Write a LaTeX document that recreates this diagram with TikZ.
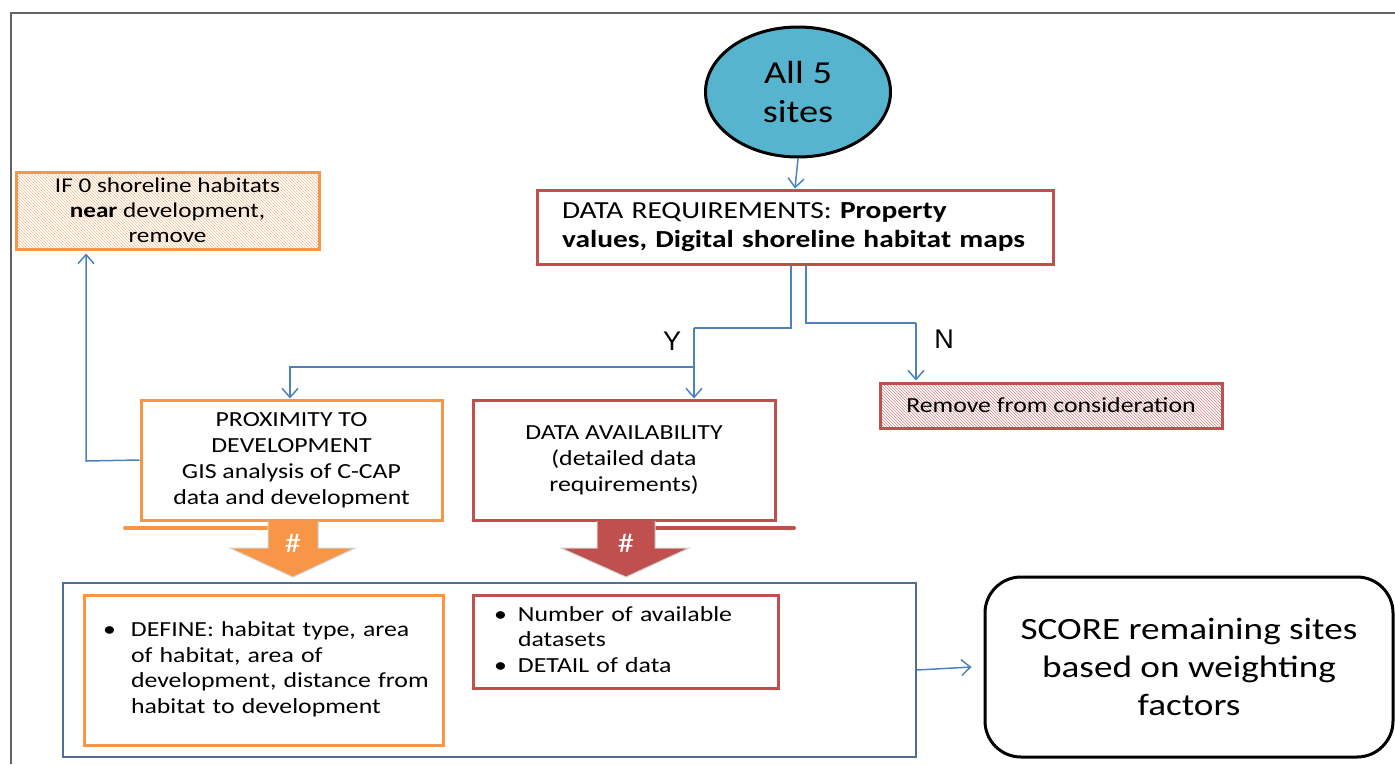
\documentclass[tikz,border=0pt]{standalone}
\usepackage{fontspec}
\setmainfont{Carlito}[FakeStretch=1.2]
\newfontfamily\arialf{Liberation Sans}
\usetikzlibrary{patterns,arrows.meta,shapes.geometric,calc}
\definecolor{orng}{RGB}{247,150,70}
\definecolor{redb}{RGB}{192,80,77}
\definecolor{bluel}{RGB}{79,129,189}
\definecolor{frameb}{RGB}{79,110,145}
\definecolor{tealc}{RGB}{86,180,206}
\definecolor{framegray}{RGB}{100,100,100}
\newcommand{\fs}[2]{\fontsize{#1}{#2}\selectfont}
\begin{document}
\begin{tikzpicture}[x=1pt,y=-1pt,
  line/.style={draw=bluel, line width=1.5pt},
  conn/.style={line, -{Straight Barb[length=9pt,width=16pt,line width=1.5pt]}},
  obox/.style={draw=orng, line width=3pt, fill=white, inner sep=0pt},
  rbox/.style={draw=redb, line width=3pt, fill=white, inner sep=0pt},
  ohatch/.style={draw=orng, line width=3pt, inner sep=0pt, preaction={fill=white}, pattern=north west lines, pattern color=orng!60},
  rhatch/.style={draw=redb, line width=3pt, inner sep=0pt, preaction={fill=white}, pattern=north west lines, pattern color=redb!70},
  darrow/.style={draw=black!18, line width=1pt},
  hashlbl/.style={text=white, font=\fs{27}{30}}
]
\useasboundingbox (0,0) rectangle (1395,764);
% outer frame
\draw[framegray, line width=2pt] (11,764) -- (11,13) -- (1395,13);

% ellipse
\node[ellipse, draw=black, line width=3pt, fill=tealc, minimum width=185pt, minimum height=130pt, inner sep=0pt, align=center, font=\fs{32}{39}] (all) at (798,92) {All 5\\sites};

% data requirements
\node[rbox, minimum width=516pt, minimum height=74pt, text width=466pt, align=left, font=\fs{24.5}{29}] (dreq) at (795,227)
  {DATA REQUIREMENTS: \textbf{Property}\\\textbf{values, Digital shoreline habitat maps}};

% if 0
\node[ohatch, minimum width=303pt, minimum height=77pt, align=center, font=\fs{21}{25}] (if0) at (167.5,210.5)
  {IF 0 shoreline habitats\\\textbf{near} development,\\remove};

% proximity
\node[obox, minimum width=301pt, minimum height=120pt, align=center, font=\fs{21.5}{26}] (prox) at (291.5,460)
  {PROXIMITY TO\\DEVELOPMENT\\GIS analysis of C-CAP\\data and development};

% data availability
\node[rbox, minimum width=302pt, minimum height=120pt, align=center, font=\fs{21.5}{26}] (davail) at (624,460)
  {DATA AVAILABILITY\\(detailed data\\requirements)};

% remove
\node[rhatch, minimum width=342pt, minimum height=45pt, font=\fs{21.5}{24}] (remove) at (1051,405.5)
  {Remove from consideration};

% Y / N labels
\node[font=\arialf\fs{27}{30}] (ylbl) at (672,341) {Y};
\node[font=\arialf\fs{27}{30}] (nlbl) at (944,339) {N};

% connectors
\draw[conn] (all.south) -- (dreq.north);
\coordinate (yb) at (694,328);
\coordinate (yj) at (694,367);
\coordinate (nb) at (916,323);
\draw[line] ($(dreq.south)+(-4,0)$) |- (yb);
\draw[conn] (yb) -- (yb |- davail.north);
\draw[conn] (yj) -| ($(prox.north)+(-1.5,0)$);
\draw[line] ($(dreq.south)+(11,0)$) |- (nb);
\draw[conn] (nb) -- ($(nb |- remove.north)+(0,-1)$);
\coordinate (ifx) at (86,461);
\draw[conn] (prox.west) -- (ifx) -- ($(if0.south -| ifx)+(0,3)$);

% bottom frame and inner boxes
\node[draw=frameb, line width=1.8pt, minimum width=853pt, minimum height=174pt] (frame) at (489.5,670) {};
\node[obox, minimum width=359pt, minimum height=150pt, text width=321pt, inner xsep=19pt, align=left, font=\fs{21.5}{25.5}] (define) at (263.5,670)
  {\begin{tabular}{@{}p{28pt}@{}l@{}}
   \textbullet & DEFINE: habitat type, area\\
   & of habitat, area of\\
   & development, distance from\\
   & habitat to development
   \end{tabular}};
\node[rbox, minimum width=305pt, minimum height=93pt, text width=263pt, inner xsep=21pt, align=left, font=\fs{21.5}{25.5}] (detail) at (625.5,641.5)
  {\begin{tabular}{@{}p{24pt}@{}l@{}}
   \textbullet & Number of available\\
   & datasets\\
   \textbullet & DETAIL of data
   \end{tabular}};
\node[draw=black, line width=3pt, rounded corners=36pt, minimum width=408pt, minimum height=180pt, align=center, font=\fs{31}{38}] (score) at (1189,667)
  {SCORE remaining sites\\based on weighting\\factors};
\draw[conn] (frame.east) -- ($(score.west)+(-12,0)$);

% side lines under the boxes
\draw[orng, line width=4pt, line cap=round] (125,528) -- (268,528);
\draw[redb, line width=4pt, line cap=round] (655,528) -- (794,528);

% down arrows
\fill[orng] (268,521) -- (318,521) -- (318,548) -- (355,548) -- (293,577) -- (230,548) -- (268,548) -- cycle;
\draw[darrow] (268,521) -- (268,548) -- (230,548) -- (293,577) -- (355,548) -- (318,548) -- (318,521);
\node[hashlbl] (hash1) at (293,543) {\#};
\fill[redb] (597,521) -- (655,521) -- (655,548) -- (689,548) -- (626,577) -- (561,548) -- (597,548) -- cycle;
\draw[darrow] (597,521) -- (597,548) -- (561,548) -- (626,577) -- (689,548) -- (655,548) -- (655,521);
\node[hashlbl] (hash2) at (626,543) {\#};
\end{tikzpicture}
\end{document}
